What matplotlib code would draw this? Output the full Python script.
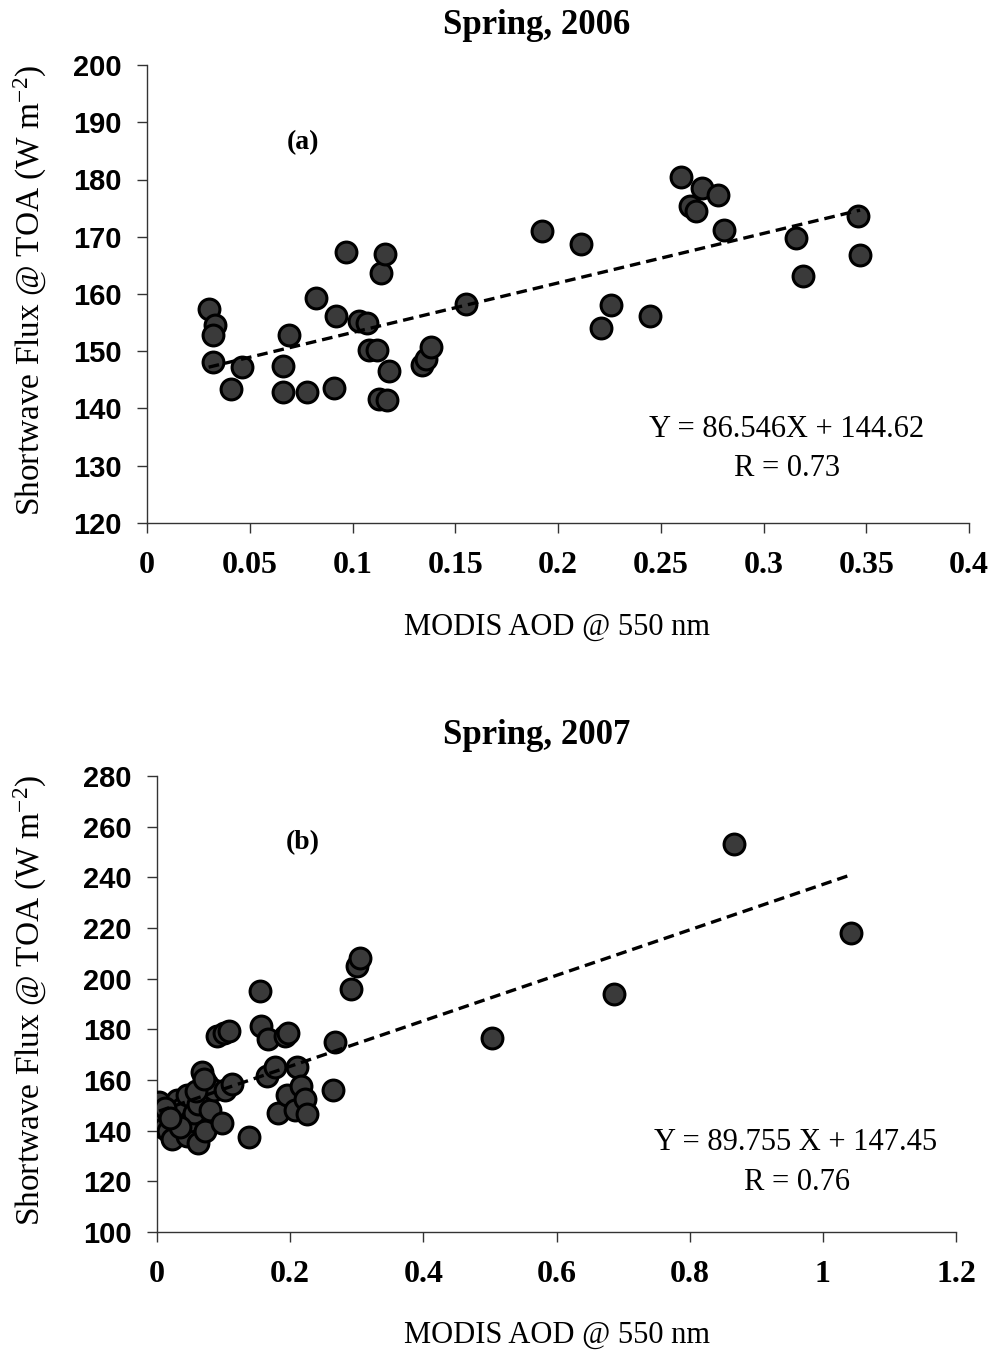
import numpy as np
import matplotlib
matplotlib.use("Agg")
import matplotlib.pyplot as plt

# Spring 2006 (panel a)
aod_2006 = [0.030, 0.033, 0.032, 0.032, 0.046, 0.041, 0.069, 0.066, 0.066, 0.078,
            0.091, 0.082, 0.092, 0.097, 0.103, 0.107, 0.108, 0.112, 0.114, 0.116,
            0.113, 0.117, 0.118, 0.134, 0.136, 0.138, 0.155, 0.192, 0.211, 0.221,
            0.226, 0.245, 0.260, 0.264, 0.267, 0.270, 0.278, 0.281, 0.316, 0.319,
            0.346, 0.347]
flux_2006 = [157.3, 154.6, 152.8, 148.2, 147.3, 143.4, 152.8, 147.4, 142.8, 142.9,
             143.5, 159.3, 156.2, 167.3, 155.3, 155.0, 150.3, 150.2, 163.6, 167.0,
             141.6, 141.4, 146.5, 147.6, 148.6, 150.7, 158.3, 171.0, 168.7, 154.0,
             158.1, 156.2, 180.5, 175.3, 174.5, 178.5, 177.3, 171.2, 169.8, 163.2,
             173.6, 166.8]

# Spring 2007 (panel b)
aod_2007 = [0.003, 0.005, 0.004, 0.010, 0.017, 0.022, 0.030, 0.030, 0.038, 0.045,
            0.045, 0.050, 0.055, 0.062, 0.062, 0.068, 0.072, 0.075, 0.080, 0.085,
            0.090, 0.097, 0.100, 0.102, 0.108, 0.112, 0.138, 0.155, 0.156, 0.166,
            0.165, 0.177, 0.182, 0.192, 0.195, 0.196, 0.207, 0.210, 0.217, 0.222,
            0.225, 0.265, 0.267, 0.292, 0.300, 0.305, 0.503, 0.686, 0.867, 1.042,
            0.012, 0.035, 0.058, 0.020, 0.070]
flux_2007 = [151.5, 147.0, 143.5, 141.0, 140.0, 136.7, 152.0, 146.0, 149.0, 154.0,
             138.0, 144.0, 147.0, 150.5, 135.0, 163.0, 140.0, 158.5, 148.0, 156.0,
             177.5, 143.0, 178.5, 156.0, 179.5, 158.5, 137.5, 195.0, 181.5, 176.0,
             161.5, 165.0, 147.0, 177.5, 154.0, 178.5, 148.0, 165.0, 157.5, 152.5,
             146.5, 156.0, 175.0, 196.0, 205.0, 208.0, 176.5, 194.0, 253.0, 218.0,
             149.0, 141.5, 155.5, 145.0, 160.5]

fits = [(86.546, 144.62, "Y = 86.546X + 144.62", "R = 0.73"),
        (89.755, 147.45, "Y = 89.755 X + 147.45", "R = 0.76")]

xticks_a = [0, 0.05, 0.1, 0.15, 0.2, 0.25, 0.3, 0.35, 0.4]
xticklabels_a = ["0", "0.05", "0.1", "0.15", "0.2", "0.25", "0.3", "0.35", "0.4"]
yticks_a = [120, 130, 140, 150, 160, 170, 180, 190, 200]
xticks_b = [0, 0.2, 0.4, 0.6, 0.8, 1.0, 1.2]
xticklabels_b = ["0", "0.2", "0.4", "0.6", "0.8", "1", "1.2"]
yticks_b = [100, 120, 140, 160, 180, 200, 220, 240, 260, 280]

plt.rcParams["font.family"] = ["Liberation Serif", "DejaVu Serif"]
plt.rcParams["mathtext.fontset"] = "custom"
plt.rcParams["mathtext.rm"] = "Liberation Serif"
plt.rcParams["mathtext.it"] = "Liberation Serif:italic"

W, H = 993, 1355
fig = plt.figure(figsize=(W / 100, H / 100), dpi=100)

def box(l, t, r, b):
    return [l / W, 1 - b / H, (r - l) / W, (b - t) / H]

ax_a = fig.add_axes(box(147, 65, 969, 523))
ax_b = fig.add_axes(box(157, 776, 956, 1232))

panels = [
    (ax_a, aod_2006, flux_2006, fits[0], (0, 0.4), (120, 200), xticks_a, xticklabels_a, yticks_a,
     "(a)", "Spring, 2006", 25, 627, 290, (303, 143), (787, 430), (787, 468)),
    (ax_b, aod_2007, flux_2007, fits[1], (0, 1.2), (100, 280), xticks_b, xticklabels_b, yticks_b,
     "(b)", "Spring, 2007", 735, 1335, 1000, (303, 843), (796, 1143), (797, 1183)),
]

ylab = "Shortwave Flux @ TOA (W m$^{-2}$)"

for (ax, xs, ys, fit, xl, yl, xt, xtl, yt, tag, title, ty, xly, yly, tagpos, eqpos, rpos) in panels:
    ax.plot(xs, ys, "o", ms=15, mfc="#3a3a3a", mec="black", mew=2.2, zorder=3)
    slope, icpt, eq, rtxt = fit
    xx = np.array([min(xs), max(xs)])
    ax.plot(xx, slope * xx + icpt, color="black", lw=2.4, ls=(0, (3.2, 1.8)), zorder=4)
    ax.set_xlim(*xl)
    ax.set_ylim(*yl)
    ax.set_xticks(xt)
    ax.set_xticklabels(xtl, fontsize=23, fontweight="bold", family=["Liberation Serif"])
    ax.set_yticks(yt)
    ax.set_yticklabels([str(v) for v in yt], fontsize=21, fontweight="bold",
                       family=["Liberation Sans Narrow", "Liberation Sans"])
    for s in ["top", "right"]:
        ax.spines[s].set_visible(False)
    for s in ["left", "bottom"]:
        ax.spines[s].set_color("#333333")
        ax.spines[s].set_linewidth(1.0)
    ax.tick_params(axis="both", direction="out", length=7, width=1.0, color="#333333")
    ax.tick_params(axis="y", pad=11)
    ax.tick_params(axis="x", pad=13)
    ax.set_clip_on(False)

    fig.text(537 / W, 1 - ty / H, title, ha="center", va="center", fontsize=25, fontweight="bold")
    fig.text(557 / W, 1 - xly / H, "MODIS AOD @ 550 nm", ha="center", va="center", fontsize=22)
    fig.text(30 / W, 1 - yly / H, ylab, ha="center", va="center", rotation=90, fontsize=24)
    fig.text(tagpos[0] / W, 1 - tagpos[1] / H, tag, ha="center", va="center", fontsize=20,
             fontweight="bold")
    fig.text(eqpos[0] / W, 1 - eqpos[1] / H, eq, ha="center", va="center", fontsize=22)
    fig.text(rpos[0] / W, 1 - rpos[1] / H, rtxt, ha="center", va="center", fontsize=22)

fig.savefig("out.png", dpi=100, facecolor="white")
